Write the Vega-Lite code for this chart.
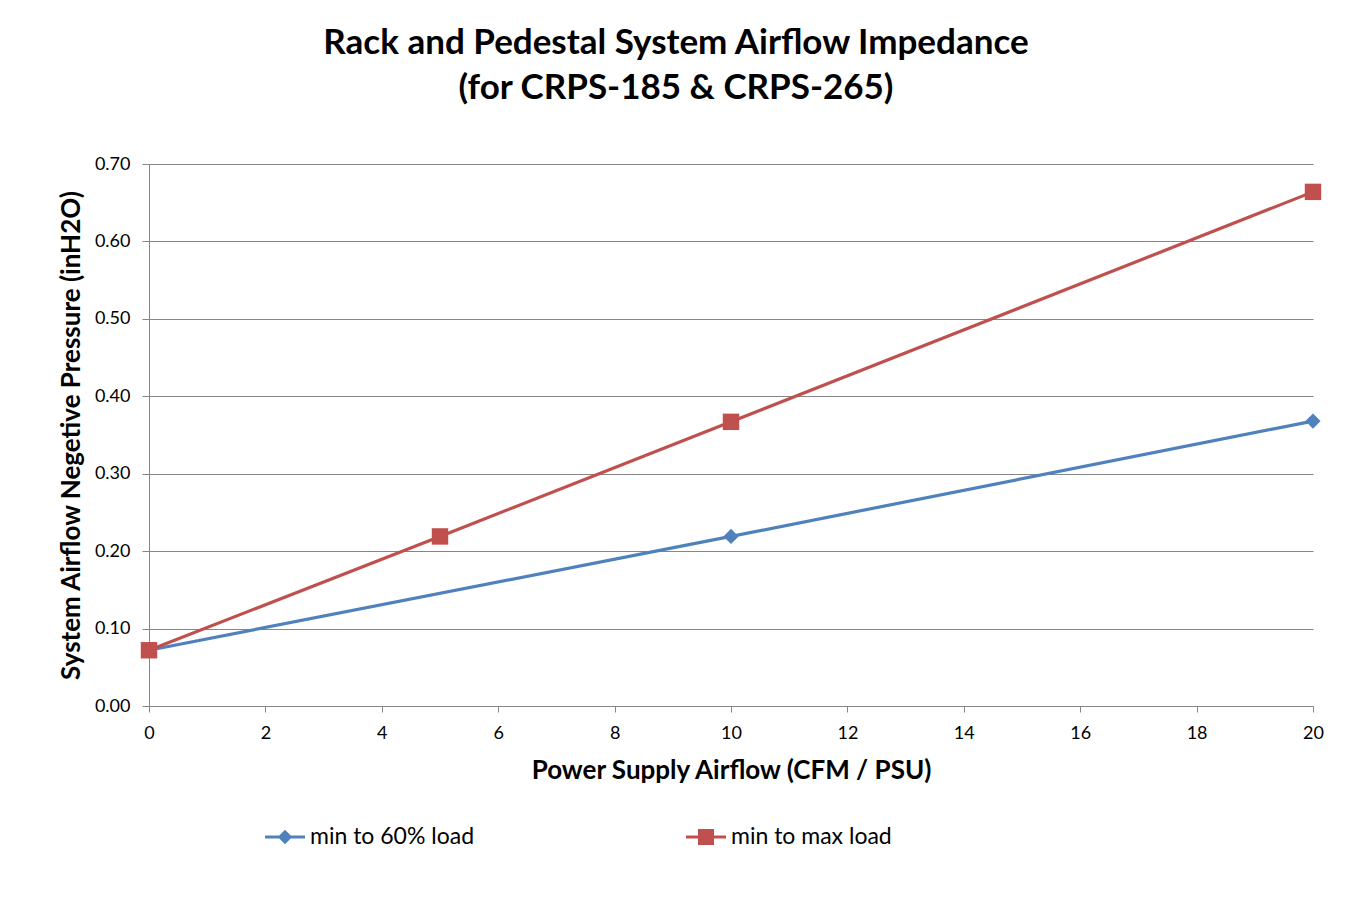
{
  "$schema": "https://vega.github.io/schema/vega-lite/v6.json",
  "autosize": "none",
  "width": 1164,
  "height": 542,
  "padding": {"left": 149, "top": 164, "right": 39, "bottom": 196},
  "background": "white",
  "title": {
    "text": ["Rack and Pedestal System Airflow Impedance", "(for CRPS-185 & CRPS-265)"],
    "font": "Lato",
    "fontSize": 35,
    "fontWeight": "bold",
    "color": "black",
    "lineHeight": 45,
    "anchor": "middle",
    "dx": -55,
    "offset": 49
  },
  "data": {
    "values": [
      {"airflow": 0, "pressure": 0.072, "series": "min to 60% load"},
      {"airflow": 10, "pressure": 0.219, "series": "min to 60% load"},
      {"airflow": 20, "pressure": 0.368, "series": "min to 60% load"},
      {"airflow": 0, "pressure": 0.072, "series": "min to max load"},
      {"airflow": 5, "pressure": 0.219, "series": "min to max load"},
      {"airflow": 10, "pressure": 0.367, "series": "min to max load"},
      {"airflow": 20, "pressure": 0.664, "series": "min to max load"}
    ]
  },
  "encoding": {
    "x": {
      "field": "airflow",
      "type": "quantitative",
      "title": "Power Supply Airflow (CFM / PSU)",
      "scale": {"domain": [0, 20], "nice": false},
      "axis": {"values": [0, 2, 4, 6, 8, 10, 12, 14, 16, 18, 20], "grid": false, "labelFlush": false, "tickSize": 6, "labelPadding": 12, "titlePadding": 15}
    },
    "y": {
      "field": "pressure",
      "type": "quantitative",
      "title": "System Airflow Negetive Pressure (inH2O)",
      "scale": {"domain": [0, 0.7], "nice": false},
      "axis": {"values": [0, 0.1, 0.2, 0.3, 0.4, 0.5, 0.6, 0.7], "format": ".2f", "tickSize": 7, "labelPadding": 12, "titlePadding": 10}
    }
  },
  "layer": [
    {
      "transform": [{"filter": "datum.series == 'min to 60% load'"}],
      "mark": {"type": "line", "strokeWidth": 3.2, "color": "#4F81BD"}
    },
    {
      "transform": [{"filter": "datum.series == 'min to max load'"}],
      "mark": {"type": "line", "strokeWidth": 3.2, "color": "#C0504D"}
    },
    {
      "transform": [{"filter": "datum.series == 'min to 60% load'"}],
      "mark": {"type": "point", "shape": "diamond", "filled": true, "opacity": 1, "size": 230, "color": "#4F81BD"}
    },
    {
      "transform": [{"filter": "datum.series == 'min to max load'"}],
      "mark": {"type": "point", "shape": "square", "filled": true, "opacity": 1, "size": 270, "color": "#C0504D"}
    },
    {
      "transform": [{"filter": "false"}],
      "mark": {"type": "point", "filled": true, "opacity": 1},
      "encoding": {
        "color": {
          "field": "series",
          "type": "nominal",
          "scale": {"domain": ["min to 60% load", "min to max load"], "range": ["#4F81BD", "#C0504D"]},
          "legend": {
            "title": null,
            "orient": "none",
            "direction": "horizontal",
            "legendX": 116,
            "legendY": 653,
            "columnPadding": 211,
            "labelFont": "Lato",
            "labelFontSize": 23,
            "labelColor": "black",
            "labelOffset": 5,
            "labelLimit": 400,
            "symbolSize": 1600,
            "symbolStrokeWidth": 0
          }
        },
        "shape": {
          "field": "series",
          "type": "nominal",
          "scale": {
            "domain": ["min to 60% load", "min to max load"],
            "range": [
              "M-1,-0.075H1V0.075H-1Z M0,-0.36L0.36,0L0,0.36L-0.36,0Z",
              "M-1,-0.075H1V0.075H-1Z M-0.4,-0.4H0.4V0.4H-0.4Z"
            ]
          },
          "legend": {
            "title": null,
            "orient": "none",
            "direction": "horizontal",
            "legendX": 116,
            "legendY": 653,
            "columnPadding": 211,
            "labelFont": "Lato",
            "labelFontSize": 23,
            "labelColor": "black",
            "labelOffset": 5,
            "labelLimit": 400,
            "symbolSize": 1600,
            "symbolStrokeWidth": 0
          }
        }
      }
    }
  ],
  "config": {
    "view": {"stroke": null},
    "axis": {
      "labelFont": "Lato",
      "labelFontSize": 18,
      "labelColor": "black",
      "titleFont": "Lato",
      "titleFontSize": 26,
      "titleFontWeight": "bold",
      "titleColor": "black",
      "domainColor": "#868686",
      "tickColor": "#868686",
      "gridColor": "#868686"
    }
  }
}
